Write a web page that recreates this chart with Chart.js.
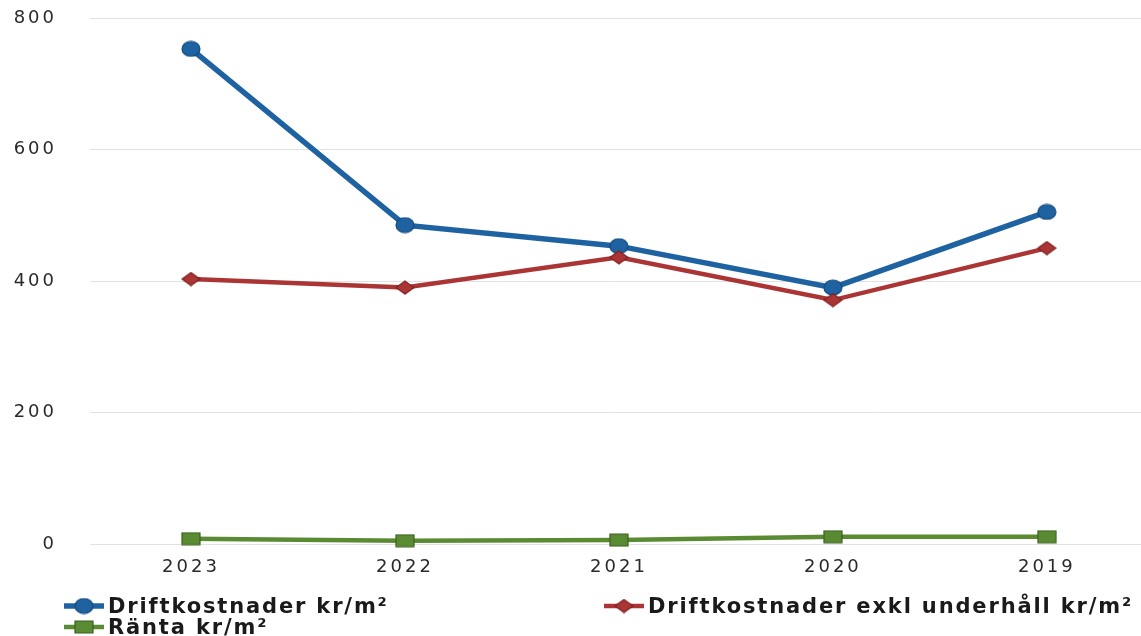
<!DOCTYPE html>
<html>
<head>
<meta charset="utf-8">
<script src="https://cdn.jsdelivr.net/npm/chart.js@4/dist/chart.umd.min.js"></script>
<style>
  html, body { margin: 0; padding: 0; background: #fff; }
  #wrap { position: relative; width: 1141px; height: 636px; overflow: hidden; }
  #c { position: absolute; left: 0; top: 0; }
  .leg { position: absolute; display: flex; align-items: center; font-family: "DejaVu Sans", sans-serif;
         font-weight: bold; font-size: 21px; letter-spacing: 1.85px; color: #1a1a1a; white-space: nowrap; line-height: 22px; }
  .leg canvas { margin-right: 3px; }
</style>
</head>
<body>
<div id="wrap">
  <canvas id="c" width="1141" height="636"></canvas>
</div>
<script>
// Categories and series (kr/m²)
const years = ['2023', '2022', '2021', '2020', '2019'];
const driftkostnader = [753, 485, 453, 390, 505];
const exklUnderhall = [403, 390, 436, 371, 450];
const ranta = [8, 5, 6, 11, 11];
const yTicks = [0, 200, 400, 600, 800];

const seriesNames = ['Driftkostnader kr/m²', 'Driftkostnader exkl underhåll kr/m²', 'Ränta kr/m²'];

// Marker images
function marker(shape, w, h, fill, stroke) {
  const c = document.createElement('canvas');
  c.width = w + 2; c.height = h + 2;
  const g = c.getContext('2d');
  const cx = c.width / 2, cy = c.height / 2;
  g.fillStyle = fill; g.strokeStyle = stroke; g.lineWidth = 1.2;
  g.beginPath();
  if (shape === 'circle') {
    g.ellipse(cx, cy, w / 2, h / 2, 0, 0, Math.PI * 2);
  } else if (shape === 'diamond') {
    g.moveTo(cx - w / 2, cy); g.lineTo(cx, cy - h / 2); g.lineTo(cx + w / 2, cy); g.lineTo(cx, cy + h / 2); g.closePath();
  } else {
    g.rect(cx - w / 2, cy - h / 2, w, h);
  }
  g.fill(); g.stroke();
  return c;
}

const styles = [
  { color: '#1f62a2', dark: '#154a7c', width: 5.5, shape: 'circle', mw: 18, mh: 15 },
  { color: '#ab3535', dark: '#7e2222', width: 4.5, shape: 'diamond', mw: 18, mh: 13 },
  { color: '#5a8b33', dark: '#3b6020', width: 4.5, shape: 'rect', mw: 18, mh: 12 }
];
const markers = styles.map(s => marker(s.shape, s.mw, s.mh, s.color, s.dark));

function toPoints(values) { return values.map((v, i) => ({ x: i, y: v })); }
const seriesValues = [driftkostnader, exklUnderhall, ranta];

const datasets = seriesValues.map((vals, k) => ({
  label: seriesNames[k],
  data: toPoints(vals),
  borderColor: styles[k].color,
  backgroundColor: styles[k].color,
  borderWidth: styles[k].width,
  pointStyle: markers[k],
  pointRadius: 8,
  tension: 0,
  clip: false
}));
// draw green first so the cost lines sit on top
datasets.reverse();

const spacing = {
  id: 'spacing',
  beforeDraw(chart) { chart.ctx.letterSpacing = '3px'; }
};

new Chart(document.getElementById('c'), {
  type: 'line',
  data: { datasets },
  plugins: [spacing],
  options: {
    responsive: false,
    animation: false,
    layout: { autoPadding: false, padding: { top: 18, right: 0, left: 0, bottom: 0 } },
    plugins: { legend: { display: false }, tooltip: { enabled: false } },
    scales: {
      x: {
        type: 'linear',
        min: -0.472,
        max: 4.44,
        afterFit(s) { s.height = 92; s.paddingLeft = 0; s.paddingRight = 0; },
        grid: { display: false },
        border: { display: false },
        ticks: {
          stepSize: 1,
          includeBounds: false,
          autoSkip: false,
          maxRotation: 0,
          padding: 5,
          color: '#2a2a2a',
          font: { family: 'DejaVu Sans', size: 18 },
          callback: v => (Number.isInteger(v) && years[v] !== undefined) ? years[v] : null
        }
      },
      y: {
        min: yTicks[0],
        max: yTicks[yTicks.length - 1],
        afterFit(s) { s.width = 90; s.paddingTop = 0; s.paddingBottom = 0; },
        afterBuildTicks(s) { s.ticks = yTicks.map(v => ({ value: v })); },
        grid: { color: '#e2e2e2', lineWidth: 1, drawTicks: false },
        border: { display: false },
        ticks: {
          padding: 33,
          color: '#2a2a2a',
          font: { family: 'DejaVu Sans', size: 18 }
        }
      }
    }
  }
});

// Legend
const legendPos = [
  { left: 63, top: 595 },
  { left: 603, top: 595 },
  { left: 63, top: 616 }
];
const wrap = document.getElementById('wrap');
seriesNames.forEach((name, k) => {
  const item = document.createElement('div');
  item.className = 'leg';
  item.style.left = legendPos[k].left + 'px';
  item.style.top = legendPos[k].top + 'px';
  const sw = document.createElement('canvas');
  sw.width = 42; sw.height = 18;
  const g = sw.getContext('2d');
  g.strokeStyle = styles[k].color; g.lineWidth = styles[k].width;
  g.beginPath(); g.moveTo(1, 9); g.lineTo(41, 9); g.stroke();
  g.drawImage(markers[k], 21 - markers[k].width / 2, 9 - markers[k].height / 2);
  const txt = document.createElement('span');
  txt.textContent = name;
  item.appendChild(sw);
  item.appendChild(txt);
  wrap.appendChild(item);
});
</script>
</body>
</html>
